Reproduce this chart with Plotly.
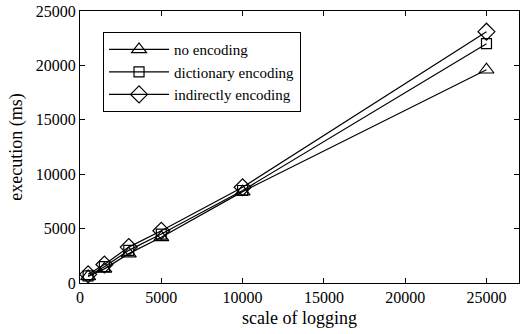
import plotly.graph_objects as go

scale = [500, 1500, 3000, 5000, 10000, 25000]
no_enc = [600, 1300, 2700, 4200, 8400, 19600]
dict_enc = [650, 1500, 3000, 4500, 8500, 22000]
indir_enc = [800, 1700, 3300, 4800, 8800, 23100]

names = ["no encoding", "dictionary encoding", "indirectly encoding"]
symbols = ["triangle-up-open", "square-open", "diamond-open"]
sizes = [13, 10, 13]

SERIF = "Liberation Serif"

fig = go.Figure()
for name, ys, sym, sz in zip(names, [no_enc, dict_enc, indir_enc], symbols, sizes):
    fig.add_trace(go.Scatter(
        x=scale, y=ys, name=name, mode="lines+markers",
        line=dict(color="black", width=1.2),
        marker=dict(symbol=sym, size=sz, color="black", line=dict(width=1.2, color="black")),
    ))

axis_common = dict(
    showgrid=False, zeroline=False, showline=True, linecolor="black", linewidth=1.2,
    mirror="ticks", ticks="inside", ticklen=5, tickcolor="black", tickwidth=1.2,
    tickformat="d",
    tickfont=dict(family=SERIF, size=16, color="black"),
)

fig.update_layout(
    width=520, height=334,
    margin=dict(l=80, r=1, t=11, b=51),
    paper_bgcolor="white", plot_bgcolor="white",
    font=dict(family=SERIF, color="black"),
    xaxis=dict(range=[0, 27000], tickvals=[0, 5000, 10000, 15000, 20000, 25000],
               title=dict(text="scale of logging", font=dict(family=SERIF, size=18), standoff=6), **axis_common),
    yaxis=dict(range=[0, 25000], tickvals=[0, 5000, 10000, 15000, 20000, 25000],
               title=dict(text="execution (ms)", font=dict(family=SERIF, size=18), standoff=8), **axis_common),
    legend=dict(x=0.052, y=0.923, xanchor="left", yanchor="top",
                bordercolor="black", borderwidth=1.2, bgcolor="white",
                font=dict(family=SERIF, size=15, color="black"),
                itemwidth=60, tracegroupgap=0),
    showlegend=True,
)

fig.write_html("out.html")
